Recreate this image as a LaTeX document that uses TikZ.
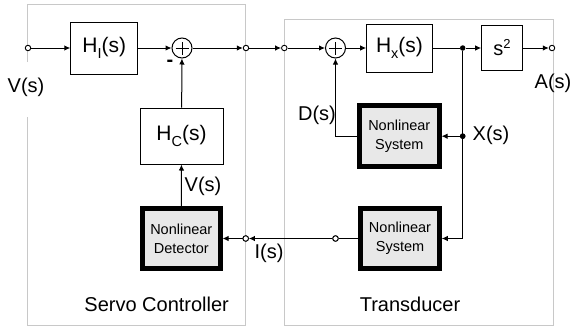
\documentclass[tikz,border=0pt]{standalone}
\usepackage{fontspec}
\setmainfont{Liberation Sans}
\usetikzlibrary{arrows.meta}
\definecolor{panelgray}{HTML}{C8C8C8}
\definecolor{nlfill}{HTML}{E8E8E8}
\newcommand{\fs}[1]{\fontsize{#1}{#1}\selectfont}
\newcommand{\subtxt}[1]{\raisebox{-5.5pt}{\fs{14.5}#1}}
\begin{document}
\begin{tikzpicture}[x=1pt,y=-1pt,
  panel/.style={draw=panelgray, line width=1pt},
  blk/.style={draw, line width=1pt, inner sep=0pt, font=\fs{21}},
  nlbox/.style={draw, line width=4.5pt, fill=nlfill, inner sep=0pt, align=center,
    minimum width=79pt, minimum height=60pt, font=\fontsize{14.5}{19}\selectfont},
  sumnode/.style={circle, draw, line width=1pt, minimum size=20pt, inner sep=0pt},
  port/.style={circle, draw, fill=white, line width=0.9pt, minimum size=5.5pt, inner sep=0pt},
  jdot/.style={circle, fill=black, minimum size=5.5pt, inner sep=0pt},
  wire/.style={line width=1pt},
  arr/.style={-{Latex[length=6pt,width=5.5pt]}},
  lbl/.style={font=\fs{20}, inner sep=0pt}
]
\useasboundingbox (0,0) rectangle (579,327);

% panels
\draw[panel] (27.7,62) -- (27.7,4.5) -- (245.7,4.5) -- (245.7,325.5) -- (27.7,325.5) -- (27.7,117);
\draw[panel] (284.3,19) rectangle (553.3,325.5);

% servo controller blocks
\node[port] (in1) at (28,48) {};
\node[blk, minimum width=67pt, minimum height=52pt] (hi) at (104.3,48) {H\subtxt{I}(s)};
\node[sumnode] (sum1) at (182,48) {};
\node[port] (o1) at (246,48) {};
\node[blk, minimum width=83pt, minimum height=56pt] (hc) at (181.5,136) {H\subtxt{C}(s)};
\node[nlbox, minimum width=78pt] (det) at (181.3,238.5) {Nonlinear\\Detector};
\node[port] (o3) at (245.7,238.5) {};

% transducer blocks
\node[port] (o2) at (284.3,48) {};
\node[sumnode] (sum2) at (335.5,48) {};
\node[blk, minimum width=65.6pt, minimum height=48pt] (hx) at (399.5,48) {H\subtxt{x}(s)};
\node[jdot] (j1) at (462.7,48) {};
\node[blk, minimum width=40.6pt, minimum height=45pt, font=\fs{20}] (s2) at (502,48) {s\raisebox{7pt}{\fs{13}2}};
\node[port] (out) at (552,48) {};
\node[nlbox, minimum width=80pt, minimum height=61pt] (nl1) at (399.3,136.2) {Nonlinear\\System};
\node[jdot] (j2) at (462.7,136.2) {};
\node[nlbox] (nl2) at (400,238.5) {Nonlinear\\System};
\node[port] (o4) at (335.5,238.5) {};

% summing junction crosses
\foreach \s in {sum1,sum2}{
  \draw[line width=1pt] ([xshift=-6.5pt]\s.center) -- ([xshift=6.5pt]\s.center);
  \draw[line width=1pt] ([yshift=-6.5pt]\s.center) -- ([yshift=6.5pt]\s.center);
}

% forward path
\draw[wire,arr] (in1) -- (hi);
\draw[wire,arr] (hi) -- (sum1);
\draw[wire,arr] (sum1) -- (o1);
\draw[wire,arr] (o1) -- (o2);
\draw[wire,arr] (o2) -- (sum2);
\draw[wire,arr] (sum2) -- (hx);
\draw[wire] (hx) -- (j1);
\draw[wire,arr] (j1) -- (s2);
\draw[wire,arr] (s2) -- (out);

% feedback paths
\draw[wire,arr] (hc) -- (sum1);
\draw[wire,arr] (det) -- (hc);
\draw[wire,arr] (j1) |- (nl2);
\draw[wire,arr] (j2) -- (nl1);
\draw[wire,arr] (nl1.west) -| (sum2);
\draw[wire] (nl2) -- (o4);
\draw[wire,arr] (o4) -- (o3);
\draw[wire,arr] (o3) -- (det);
\node[jdot] at (j2) {};
\node[port] at (o3) {};
\node[port] at (o4) {};

% labels
\node[lbl] (lv) at (26,87) {V(s)};
\node[font=\fs{20}\bfseries, inner sep=0pt] (minus) at (170,63) {-};
\node[lbl] (lv2) at (203,186) {V(s)};
\node[lbl] (li) at (269,253) {I(s)};
\node[lbl] (la) at (553,83) {A(s)};
\node[lbl] (ld) at (317,115) {D(s)};
\node[lbl] (lx) at (491,135) {X(s)};
\node[lbl] (lsc) at (156.7,304) {Servo Controller};
\node[lbl] (ltr) at (410,304) {Transducer};
\end{tikzpicture}
\end{document}
